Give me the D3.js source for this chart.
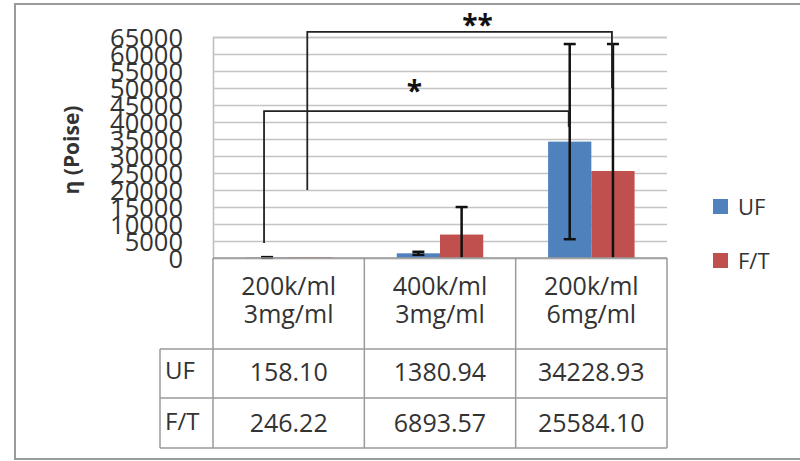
<!DOCTYPE html>
<html>
<head>
<meta charset="utf-8">
<script src="https://cdn.jsdelivr.net/npm/d3@7/dist/d3.min.js"></script>
<style>
  html, body { margin: 0; padding: 0; background: #fff; }
  svg { display: block; font-family: "Open Sans", "Liberation Sans", sans-serif; }
</style>
</head>
<body>
<svg id="chart" width="800" height="461"></svg>
<script>
// Viscosity by cell density / collagen concentration
const categories = ["200k/ml\n3mg/ml", "400k/ml\n3mg/ml", "200k/ml\n6mg/ml"];
const seriesNames = ["UF", "F/T"];
const ufValues = [158.10, 1380.94, 34228.93];
const ftValues = [246.22, 6893.57, 25584.10];
const ufErrors = [100, 450, 28700];
const ftErrors = [null, 8100, 37350];
const yTicks = [0, 5000, 10000, 15000, 20000, 25000, 30000, 35000, 40000, 45000, 50000, 55000, 60000, 65000];
const tableValues = [["158.10", "1380.94", "34228.93"], ["246.22", "6893.57", "25584.10"]];

// significance brackets: [category index, series index, leg end value] for each side
const brackets = [
  { label: "*",  y: 43200, left: [0, 0, 4400],  right: [2, 0, 38500], dx: -2, dy: -24 },
  { label: "**", y: 66500, left: [0, 1, 20000], right: [2, 1, 50000], dx: 18, dy: -11 }
];

const colors = { "UF": "#4F81BD", "F/T": "#C0504D" };
const valuesBySeries = { "UF": ufValues, "F/T": ftValues };
const errorsBySeries = { "UF": ufErrors, "F/T": ftErrors };

const svg = d3.select("#chart");
const plot = { left: 213, right: 667, top: 37, bottom: 258 };
const textColor = "#333";

const y = d3.scaleLinear().domain([0, 65000]).range([plot.bottom, plot.top]);
const x0 = d3.scaleBand().domain(categories).range([plot.left, plot.right]).paddingInner(0).paddingOuter(0);
const x1 = d3.scaleBand().domain(seriesNames).range([0, x0.bandwidth()]).paddingInner(0).paddingOuter(0.75);

// outer frame
svg.append("rect").attr("x", 15).attr("y", 4).attr("width", 800).attr("height", 455)
  .attr("fill", "none").attr("stroke", "#9a9a9a").attr("stroke-width", 2);

// gridlines
const yAxis = d3.axisLeft(y).tickValues(yTicks).tickSize(-(plot.right - plot.left)).tickFormat(d => d);
const gy = svg.append("g").attr("transform", `translate(${plot.left},0)`).call(yAxis);
gy.select(".domain").attr("stroke", "#bdbdbd").attr("stroke-width", 1.5);
gy.selectAll(".tick line").attr("stroke", "#c4c4c4").attr("stroke-width", 1.5);
gy.selectAll(".tick text")
  .attr("x", -30).attr("dy", "0.36em")
  .attr("fill", textColor).style("font-size", "25.5px")
  .style("font-family", "'Open Sans', sans-serif");

// bars
const groups = svg.append("g").selectAll("g").data(categories).join("g")
  .attr("transform", d => `translate(${x0(d)},0)`);

groups.selectAll("rect").data((d, i) => seriesNames.map(s => ({ s, v: valuesBySeries[s][i] })))
  .join("rect")
  .attr("x", d => x1(d.s)).attr("width", x1.bandwidth())
  .attr("y", d => y(d.v)).attr("height", d => y(0) - y(d.v))
  .attr("fill", d => colors[d.s]);

// error bars
const capHalf = 6;
groups.each(function (cat, i) {
  const g = d3.select(this);
  seriesNames.forEach(s => {
    const e = errorsBySeries[s][i];
    if (e == null) return;
    const v = valuesBySeries[s][i];
    const cx = x1(s) + x1.bandwidth() / 2;
    const hi = v + e, lo = Math.max(0, v - e);
    g.append("line").attr("x1", cx).attr("x2", cx).attr("y1", y(hi)).attr("y2", y(lo))
      .attr("stroke", "#111").attr("stroke-width", 2.5);
    g.append("line").attr("x1", cx - capHalf).attr("x2", cx + capHalf).attr("y1", y(hi)).attr("y2", y(hi))
      .attr("stroke", "#111").attr("stroke-width", 2.5);
    if (v - e > 0) {
      g.append("line").attr("x1", cx - capHalf).attr("x2", cx + capHalf).attr("y1", y(lo)).attr("y2", y(lo))
        .attr("stroke", "#111").attr("stroke-width", 2.5);
    }
  });
});

// significance brackets
const barCenter = (ci, si) => x0(categories[ci]) + x1(seriesNames[si]) + x1.bandwidth() / 2;
brackets.forEach(b => {
  const xl = barCenter(b.left[0], b.left[1]) - 3;
  const xr = barCenter(b.right[0], b.right[1]) - 1;
  const yb = y(b.y);
  svg.append("path")
    .attr("d", `M${xl},${y(b.left[2])}V${yb}H${xr}V${y(b.right[2])}`)
    .attr("fill", "none").attr("stroke", "#222").attr("stroke-width", 1.8);
  svg.append("text")
    .attr("x", (xl + xr) / 2 + b.dx)
    .attr("y", yb + b.dy + 14)
    .attr("text-anchor", "middle")
    .style("font-size", "28px").style("font-weight", "bold")
    .attr("fill", "#111")
    .text(b.label);
});

// y axis title
svg.append("text")
  .attr("transform", "translate(79,150) rotate(-90)")
  .attr("text-anchor", "middle")
  .style("font-size", "21px").style("font-weight", "bold")
  .attr("fill", textColor)
  .text("η (Poise)");

// data table
const rowTop = plot.bottom, row1 = 349, row2 = 398, row3 = 448, tableLeft = 160;
const tableStroke = "#9a9a9a";
const tbl = svg.append("g").attr("stroke", tableStroke).attr("stroke-width", 1.5);
tbl.append("line").attr("x1", plot.left).attr("x2", plot.right).attr("y1", rowTop).attr("y2", rowTop);
[row1, row2, row3].forEach(yy =>
  tbl.append("line").attr("x1", tableLeft).attr("x2", plot.right).attr("y1", yy).attr("y2", yy));
tbl.append("line").attr("x1", tableLeft).attr("x2", tableLeft).attr("y1", row1).attr("y2", row3);
categories.forEach(c =>
  tbl.append("line").attr("x1", x0(c)).attr("x2", x0(c)).attr("y1", rowTop).attr("y2", row3));
tbl.append("line").attr("x1", plot.right).attr("x2", plot.right).attr("y1", rowTop).attr("y2", row3);

// category labels
categories.forEach(c => {
  const t = svg.append("text").attr("text-anchor", "middle").attr("fill", textColor)
    .style("font-size", "25px");
  c.split("\n").forEach((line, k) => {
    t.append("tspan").attr("x", x0(c) + x0.bandwidth() / 2).attr("y", 295 + k * 28).text(line);
  });
});

// value rows
const rowBaselines = [381, 432];
seriesNames.forEach((s, si) => {
  svg.append("text").attr("x", 165).attr("y", rowBaselines[si] - 2)
    .attr("fill", textColor).style("font-size", "24px").text(s);
  categories.forEach((c, ci) => {
    svg.append("text").attr("x", x0(c) + x0.bandwidth() / 2).attr("y", rowBaselines[si])
      .attr("text-anchor", "middle").attr("fill", textColor).style("font-size", "25px")
      .text(tableValues[si][ci]);
  });
});

// legend
const legend = svg.append("g").selectAll("g").data(seriesNames).join("g")
  .attr("transform", (d, i) => `translate(713,${199 + i * 54})`);
legend.append("rect").attr("width", 15).attr("height", 15).attr("fill", d => colors[d]);
legend.append("text").attr("x", 25).attr("y", 16).attr("fill", textColor)
  .style("font-size", "22px").text(d => d);
</script>
</body>
</html>
